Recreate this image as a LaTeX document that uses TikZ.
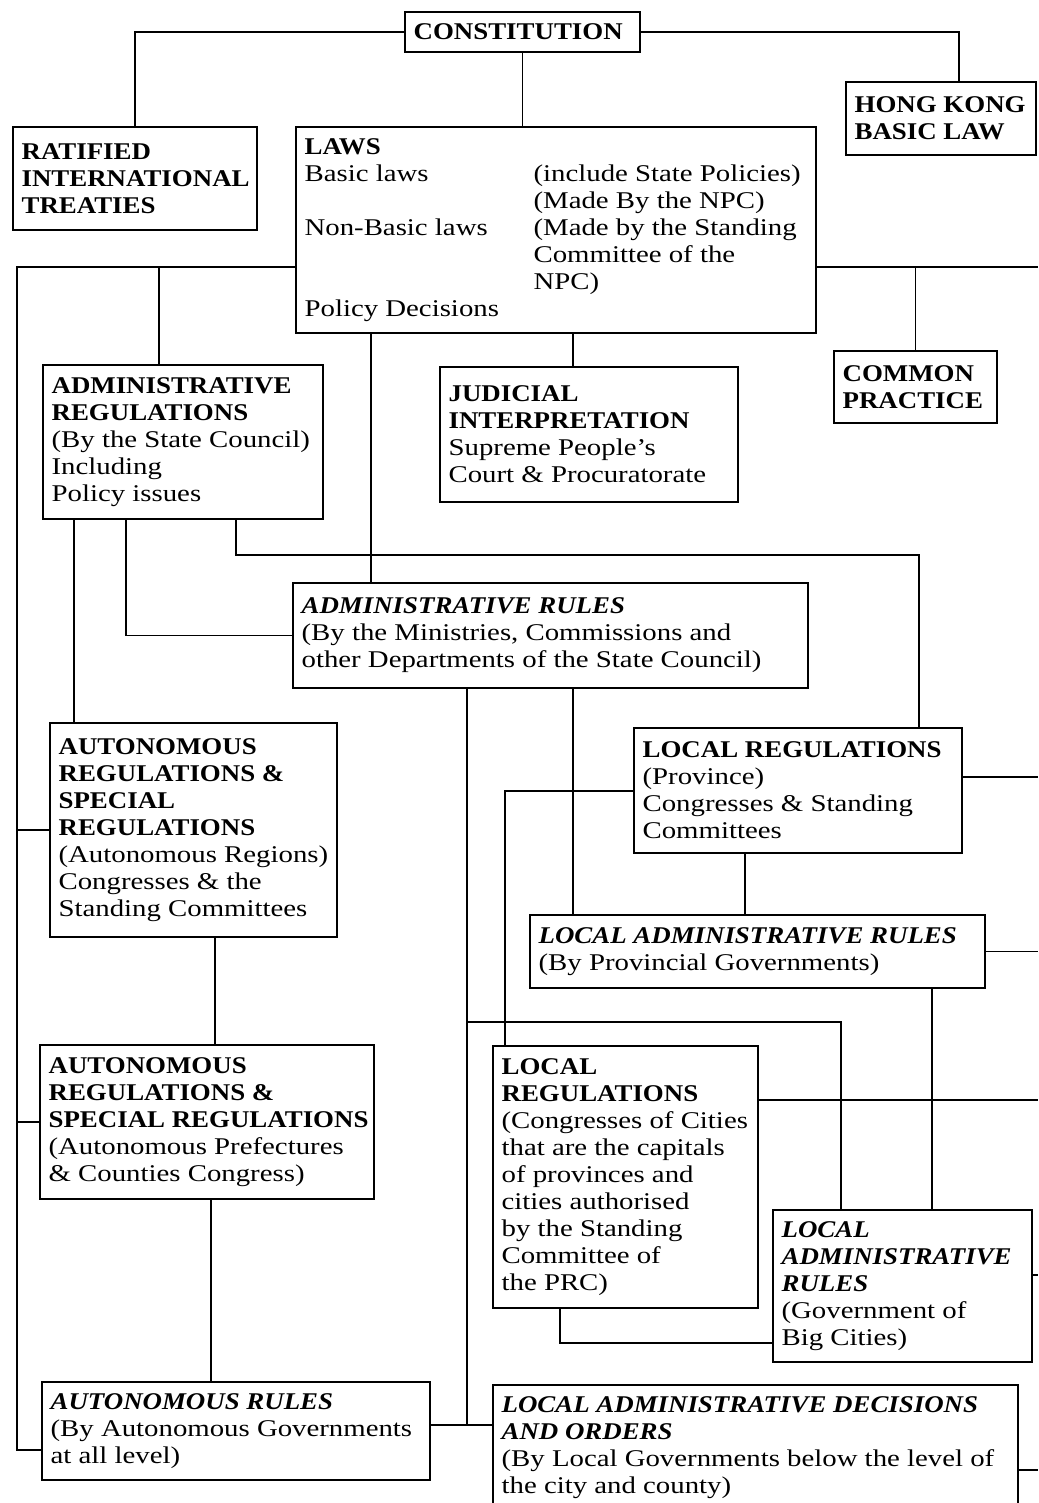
\documentclass[tikz,border=0pt]{standalone}
\usepackage{fontspec}
\setmainfont{Liberation Serif}[FakeStretch=1.2, BoldFeatures={FakeStretch=1.12}, BoldItalicFeatures={FakeStretch=1.12}]
\usetikzlibrary{fit}
\newcommand\mybox[6]{%
  \node[boxst, fit={(#2,#3) (#4,#5)}] (#1) {};
  \node[txtst] (#1t) at ([xshift=4.5pt]#1.west) {#6};}
\newcommand\hd[1]{\textbf{#1}}
\newcommand\hdi[1]{\textbf{\textit{#1}}}
\begin{document}
\begin{tikzpicture}[x=0.5pt, y=-0.5pt,
  every node/.style={font=\fontsize{12}{13.5}\selectfont},
  boxst/.style={draw, line width=0.8pt, rectangle, inner sep=0pt},
  txtst/.style={anchor=west, align=left, inner sep=0pt},
  conn/.style={line width=0.8pt}]
\useasboundingbox (0,0) rectangle (1038,1503);
\clip (0,0) rectangle (1038,1503);
\fill[white] (0,0) rectangle (1038,1503);

% boxes
\mybox{cons}{405}{12}{640}{52}{\hd{CONSTITUTION}}
\mybox{rit}{13}{127}{257}{230}{\hd{RATIFIED}\\\hd{INTERNATIONAL}\\\hd{TREATIES}}
\mybox{hk}{846}{82}{1036}{155}{\hd{HONG KONG}\\\hd{BASIC LAW}}
\mybox{laws}{296}{127}{816}{333}{\hd{LAWS}\\
\makebox[114.5pt][l]{Basic laws}(include State Policies)\\
\hspace*{114.5pt}(Made By the NPC)\\
\makebox[114.5pt][l]{Non-Basic laws}(Made by the Standing\\
\hspace*{114.5pt}Committee of the\\
\hspace*{114.5pt}NPC)\\
Policy Decisions}
\mybox{cp}{834}{351}{997}{423}{\hd{COMMON}\\\hd{PRACTICE}}
\mybox{areg}{43}{365}{323}{519}{\hd{ADMINISTRATIVE}\\\hd{REGULATIONS}\\(By the State Council)\\Including\\Policy issues}
\mybox{jud}{440}{367}{738}{502}{\hd{JUDICIAL}\\\hd{INTERPRETATION}\\Supreme People's\\Court \& Procuratorate}
\mybox{arules}{293}{583}{808}{688}{\hdi{ADMINISTRATIVE RULES}\\(By the Ministries, Commissions and\\other Departments of the State Council)}
\mybox{autregA}{50}{723}{337}{937}{\hd{AUTONOMOUS}\\\hd{REGULATIONS \&}\\\hd{SPECIAL}\\\hd{REGULATIONS}\\(Autonomous Regions)\\Congresses \& the\\Standing Committees}
\mybox{lreg}{634}{728}{962}{853}{\hd{LOCAL REGULATIONS}\\(Province)\\Congresses \& Standing\\Committees}
\mybox{ladr}{530}{915}{985}{988}{\hdi{LOCAL ADMINISTRATIVE RULES}\\(By Provincial Governments)}
\mybox{autregB}{40}{1045}{374}{1199}{\hd{AUTONOMOUS}\\\hd{REGULATIONS \&}\\\hd{SPECIAL REGULATIONS}\\(Autonomous Prefectures\\\& Counties Congress)}
\mybox{lregc}{493}{1046}{758}{1308}{\hd{LOCAL}\\\hd{REGULATIONS}\\(Congresses of Cities\\that are the capitals\\of provinces and\\cities authorised\\by the Standing\\Committee of\\the PRC)}
\mybox{ladrbc}{773}{1210}{1032}{1362}{\hdi{LOCAL}\\\hdi{ADMINISTRATIVE}\\\hdi{RULES}\\(Government of\\Big Cities)}
\mybox{autrules}{42}{1382}{430}{1480}{\hdi{AUTONOMOUS RULES}\\(By Autonomous Governments\\at all level)}
\mybox{ladec}{493}{1385}{1018}{1510}{\hdi{LOCAL ADMINISTRATIVE DECISIONS}\\\hdi{AND ORDERS}\\(By Local Governments below the level of\\the city and county)}

% helper coordinates
\coordinate (Lbus) at (17,267);
\coordinate (Lbot) at (17,1450);
\coordinate (Rbus) at (1038,267);
\coordinate (xHK) at (959,0);
\coordinate (xA) at (159,0);
\coordinate (x371) at (371,0);
\coordinate (x573) at (573,0);
\coordinate (x74) at (74,0);
\coordinate (x126) at (126,0);
\coordinate (c555) at (236,555);
\coordinate (x919) at (919,0);
\coordinate (x467) at (467,0);
\coordinate (y1022) at (0,1022);
\coordinate (x841) at (841,0);
\coordinate (y1425) at (0,1425);
\coordinate (c791) at (505,791);
\coordinate (y777) at (0,777);
\coordinate (x745) at (745,0);
\coordinate (x932) at (932,0);
\coordinate (x215) at (215,0);
\coordinate (x211) at (211,0);
\coordinate (y1100) at (0,1100);
\coordinate (x560) at (560,0);
\coordinate (y1343) at (0,1343);
\coordinate (y1275) at (0,1275);
\coordinate (y1470) at (0,1470);

% connectors
\draw[conn] (cons.west) -| (rit.north);
\draw[conn] (cons.east) -- (xHK |- cons.east) -- (xHK |- hk.north);
\draw[conn] (cons.south) -- (cons.south |- laws.north);
\draw[conn] (laws.west |- Lbus) -- (Lbus) -- (Lbot) -- (autrules.west |- Lbot);
\draw[conn] (Lbus |- autregA.west) -- (autregA.west);
\draw[conn] (Lbus |- autregB.west) -- (autregB.west);
\draw[conn] (xA |- Lbus) -- (xA |- areg.north);
\draw[conn] (laws.east |- Rbus) -- (Rbus);
\draw[conn] (cp.north |- Rbus) -- (cp.north);
\draw[conn] (x371 |- laws.south) -- (x371 |- arules.north);
\draw[conn] (x573 |- laws.south) -- (x573 |- jud.north);
\draw[conn] (x74 |- areg.south) -- (x74 |- autregA.north);
\draw[conn] (x126 |- areg.south) |- (arules.west);
\draw[conn] (c555 |- areg.south) -- (c555) -- (x919 |- c555) -- (x919 |- lreg.north);
\draw[conn] (x467 |- arules.south) -- (x467 |- y1425);
\draw[conn] (autrules.east |- y1425) -- (ladec.west |- y1425);
\draw[conn] (x467 |- y1022) -- (x841 |- y1022) -- (x841 |- ladrbc.north);
\draw[conn] (x573 |- arules.south) -- (x573 |- ladr.north);
\draw[conn] (lreg.west |- c791) -- (c791) -- (c791 |- lregc.north);
\draw[conn] (lreg.east |- y777) -- (Rbus |- y777);
\draw[conn] (x745 |- lreg.south) -- (x745 |- ladr.north);
\draw[conn] (ladr.east) -- (ladr.east -| Rbus);
\draw[conn] (x932 |- ladr.south) -- (x932 |- ladrbc.north);
\draw[conn] (x215 |- autregA.south) -- (x215 |- autregB.north);
\draw[conn] (x211 |- autregB.south) -- (x211 |- autrules.north);
\draw[conn] (lregc.east |- y1100) -- (Rbus |- y1100);
\draw[conn] (x560 |- lregc.south) |- (ladrbc.west |- y1343);
\draw[conn] (ladrbc.east |- y1275) -- (Rbus |- y1275);
\draw[conn] (ladec.east |- y1470) -- (Rbus |- y1470);
\end{tikzpicture}
\end{document}
